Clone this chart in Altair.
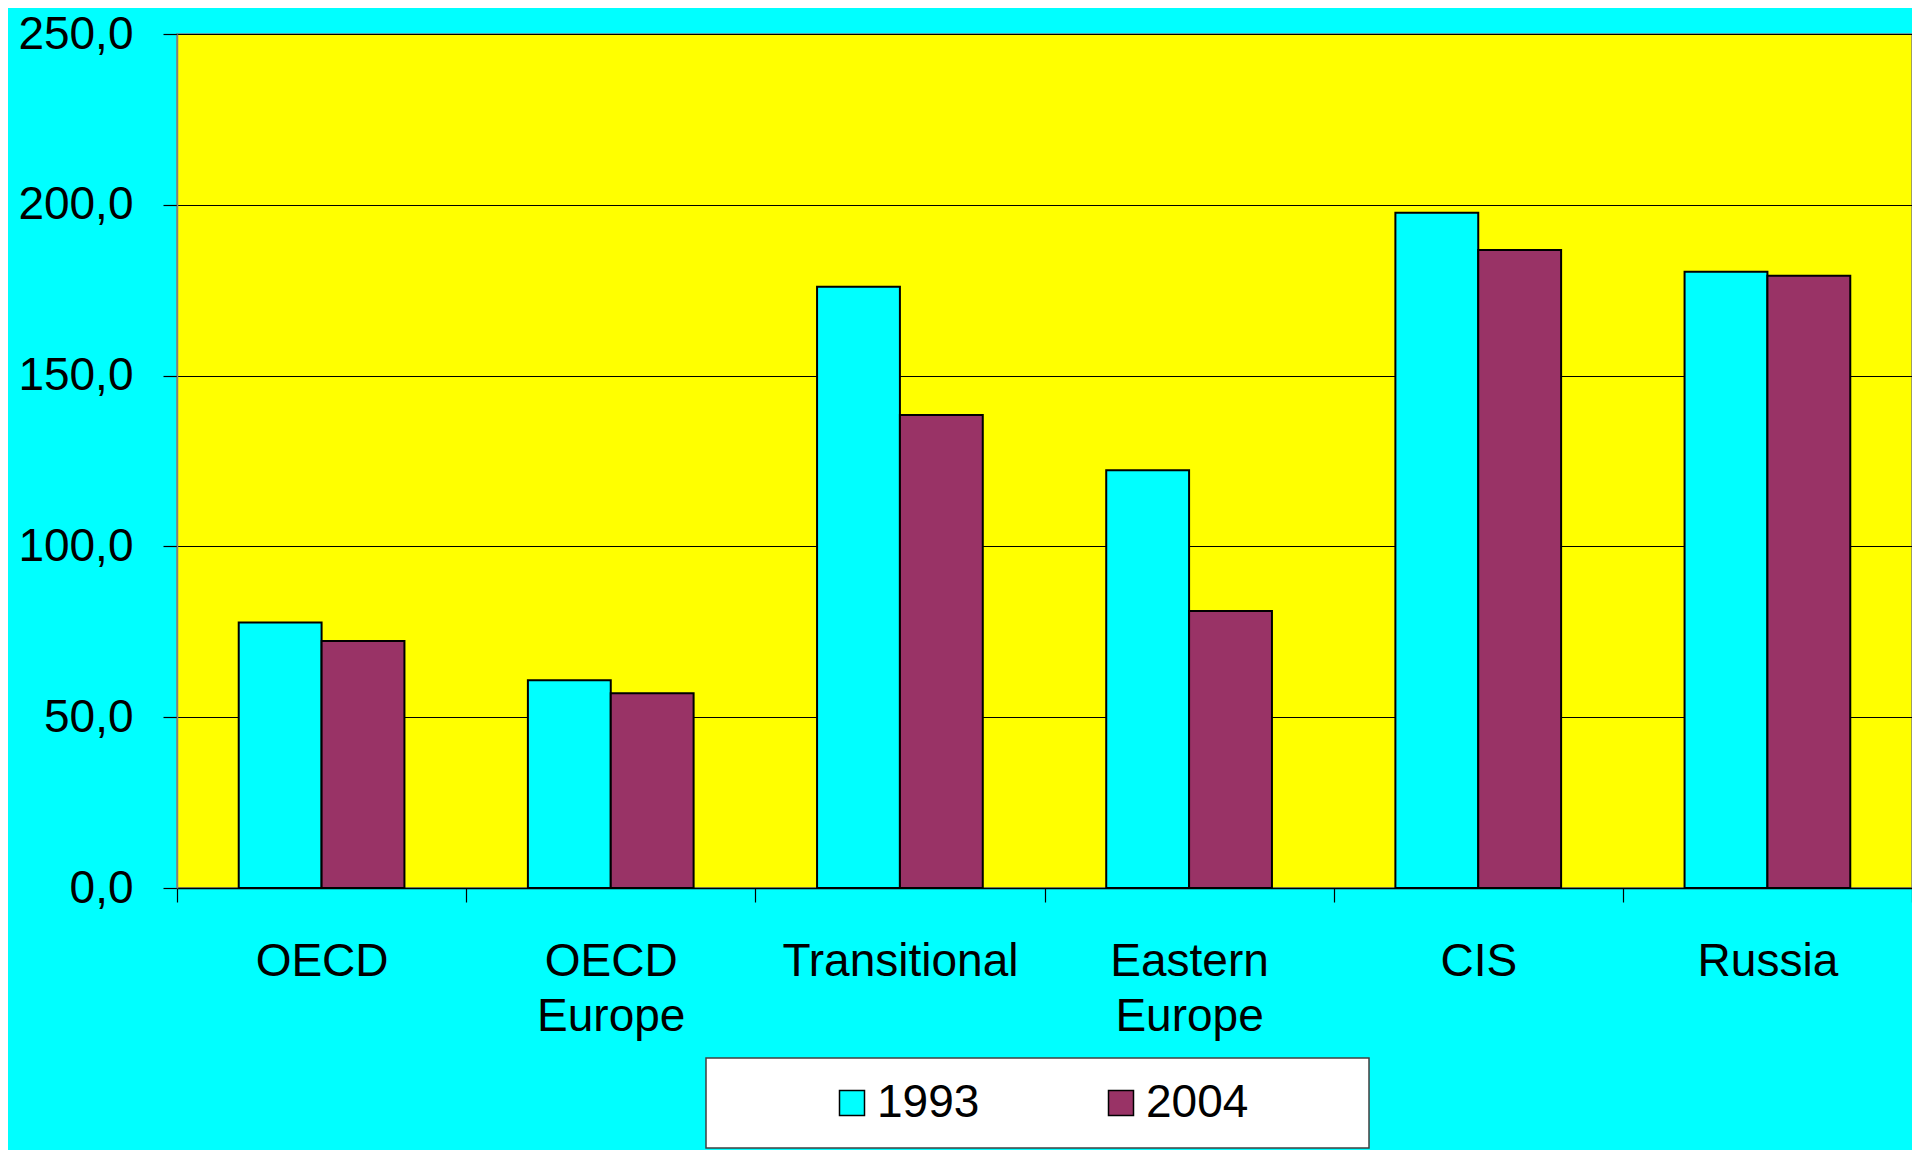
import altair as alt
import pandas as pd

regions = ["OECD", "OECD Europe", "Transitional", "Eastern Europe", "CIS", "Russia"]
years = ["1993", "2004"]
values_1993 = [77.7, 60.8, 176.0, 122.3, 197.7, 180.4]
values_2004 = [72.3, 57.0, 138.5, 81.1, 186.8, 179.2]
y_ticks = [0, 50, 100, 150, 200, 250]
colors = ["#00FFFF", "#993366"]

rows = []
for r, a, b in zip(regions, values_1993, values_2004):
    rows.append({"region": r, "year": years[0], "value": a})
    rows.append({"region": r, "year": years[1], "value": b})
df = pd.DataFrame(rows)

FONT = "Liberation Sans"

chart = (
    alt.Chart(df)
    .mark_bar(stroke="black", strokeWidth=2, opacity=1)
    .encode(
        x=alt.X(
            "region:N",
            sort=regions,
            title=None,
            scale=alt.Scale(paddingInner=0, paddingOuter=0),
            axis=alt.Axis(
                tickBand="extent",
                labelAngle=0,
                labelFont=FONT,
                labelFontSize=46,
                labelColor="black",
                labelPadding=37,
                labelLineHeight=55,
                labelBaseline="top",
                labelExpr="split(datum.label, ' ')",
                tickSize=14,
                tickColor="black",
                tickWidth=1.2,
                domainColor="black",
                domainWidth=1.5,
                grid=False,
                labelLimit=400,
            ),
        ),
        xOffset=alt.XOffset(
            "year:N", sort=years, scale=alt.Scale(paddingInner=0, paddingOuter=0.745)
        ),
        y=alt.Y(
            "value:Q",
            title=None,
            scale=alt.Scale(domain=[0, 250], nice=False),
            axis=alt.Axis(
                values=y_ticks,
                labelExpr="replace(format(datum.value, '.1f'), '.', ',')",
                labelFont=FONT,
                labelFontSize=46,
                labelColor="black",
                labelPadding=30,
                tickSize=14,
                tickColor="black",
                tickWidth=1.2,
                domainColor="#808080",
                domainWidth=1.5,
                grid=True,
                gridColor="black",
                gridWidth=1.2,
            ),
        ),
        fill=alt.Fill(
            "year:N",
            sort=years,
            scale=alt.Scale(domain=years, range=colors),
            legend=alt.Legend(
                title=" ",
                titleOrient="right",
                titleFontSize=2,
                titlePadding=99,
                orient="none",
                legendX=529,
                legendY=1024,
                direction="horizontal",
                fillColor="white",
                strokeColor="#404040",
                padding=22,
                symbolType="square",
                symbolSize=625,
                symbolStrokeColor="black",
                symbolStrokeWidth=1.5,
                symbolOpacity=1,
                symbolOffset=101,
                labelFont=FONT,
                labelFontSize=46,
                labelColor="black",
                labelOffset=2,
                columnPadding=17,
            ),
        ),
    )
    .properties(
        width=1735,
        height=854,
        background="#00FFFF",
        padding={"left": 169, "top": 26, "right": 0, "bottom": 262},
        autosize=alt.AutoSizeParams(type="none"),
    )
    .configure_view(fill="#FFFF00", stroke="#808080", strokeWidth=1.5)
    .configure_legend(strokeWidth=1.5)
)

chart.save("out.html", embed_options={"renderer": "svg", "actions": False})
